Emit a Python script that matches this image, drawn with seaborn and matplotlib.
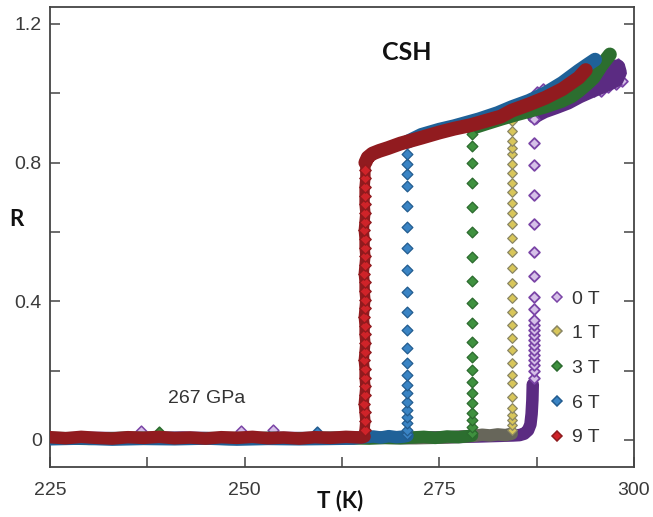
import matplotlib
matplotlib.use("Agg")
import matplotlib.pyplot as plt
import seaborn as sns
from matplotlib.lines import Line2D

# ---------------- data ----------------
fields = ["0 T", "1 T", "3 T", "6 T", "9 T"]

# 9 T (red)
T9_low = [225.0, 227.0, 229.0, 231.0, 233.0, 235.0, 237.0, 239.0, 241.0, 243.0, 245.0,
          247.0, 249.0, 251.0, 253.0, 255.0, 257.0, 259.0, 261.0, 263.0, 265.0, 265.4]
R9_low = [0.008, 0.005, 0.009, 0.006, 0.004, 0.008, 0.006, 0.009, 0.005, 0.007, 0.004,
          0.008, 0.006, 0.009, 0.005, 0.007, 0.004, 0.008, 0.006, 0.009, 0.007, 0.010]
T9_mid = [265.4, 265.5, 265.4, 265.3, 265.4, 265.5, 265.4, 265.4, 265.3, 265.4, 265.5,
          265.4, 265.4, 265.3, 265.4, 265.5, 265.4, 265.4, 265.3, 265.4, 265.5, 265.4,
          265.4, 265.3, 265.4, 265.5, 265.4, 265.4, 265.4, 265.5, 265.5]
R9_mid = [0.030, 0.055, 0.080, 0.105, 0.130, 0.155, 0.180, 0.205, 0.230, 0.255, 0.280,
          0.305, 0.330, 0.355, 0.380, 0.405, 0.430, 0.455, 0.480, 0.505, 0.530, 0.555,
          0.580, 0.605, 0.630, 0.655, 0.680, 0.705, 0.730, 0.755, 0.780]
T9_high = [265.5, 265.8, 266.4, 267.3, 268.4, 270.0, 272.7, 275.0, 276.9, 279.0, 280.1,
           282.9, 284.3, 286.5, 288.6, 290.8, 292.9, 293.8]
R9_high = [0.800, 0.815, 0.826, 0.834, 0.842, 0.855, 0.872, 0.887, 0.898, 0.908, 0.915,
           0.933, 0.950, 0.968, 0.987, 1.012, 1.045, 1.067]

# 6 T (blue)
T6_low = [225.0, 229.0, 233.0, 237.0, 241.0, 245.0, 249.0, 253.0, 257.0, 261.0, 264.0,
          265.5, 266.5, 267.5, 268.5, 269.5, 270.5, 270.9]
R6_low = [0.002, 0.004, 0.001, 0.003, 0.002, 0.004, 0.001, 0.003, 0.002, 0.003, 0.004,
          0.008, 0.010, 0.007, 0.011, 0.008, 0.010, 0.012]
R6_mid = [0.018, 0.029, 0.049, 0.066, 0.086, 0.109, 0.135, 0.158, 0.187, 0.222, 0.265,
          0.317, 0.368, 0.426, 0.489, 0.553, 0.613, 0.676, 0.734, 0.768, 0.797, 0.826]
T6_mid = [270.9] * len(R6_mid)
T6_high = [270.9, 272.7, 275.0, 276.9, 280.1, 282.5, 284.3, 286.5, 288.6, 290.8, 292.9,
           294.2, 295.0]
R6_high = [0.860, 0.880, 0.895, 0.905, 0.925, 0.943, 0.960, 0.978, 1.000, 1.030, 1.065,
           1.085, 1.097]

# 3 T (green)
T3_low = [225.0, 230.0, 235.0, 239.0, 243.0, 248.0, 253.0, 258.0, 263.0, 266.0, 268.0,
          270.0, 271.5, 273.0, 274.5, 276.0, 277.5, 278.7, 279.2]
R3_low = [0.005, 0.003, 0.006, 0.004, 0.005, 0.003, 0.006, 0.004, 0.005, 0.004, 0.006,
          0.005, 0.007, 0.009, 0.006, 0.010, 0.008, 0.011, 0.013]
R3_mid = [0.020, 0.037, 0.058, 0.078, 0.106, 0.135, 0.167, 0.201, 0.239, 0.282, 0.337,
          0.394, 0.460, 0.527, 0.599, 0.671, 0.740, 0.800, 0.849, 0.883]
T3_mid = [279.2] * len(R3_mid)
T3_high = [279.2, 281.0, 283.0, 285.0, 287.0, 288.6, 290.7, 292.0, 292.9, 294.0, 294.8,
           295.8, 296.9]
R3_high = [0.900, 0.913, 0.927, 0.940, 0.952, 0.962, 0.978, 0.992, 1.007, 1.028, 1.045,
           1.080, 1.112]

# 1 T (yellow)
T1_low = [225.0, 231.0, 237.0, 243.0, 249.0, 255.0, 261.0, 267.0, 272.0, 276.0, 279.5,
          280.5, 281.5, 282.5, 283.5, 284.3]
R1_low = [0.006, 0.004, 0.007, 0.005, 0.006, 0.004, 0.007, 0.006, 0.005, 0.007, 0.012,
          0.015, 0.013, 0.016, 0.014, 0.018]
R1_mid = [0.030, 0.043, 0.058, 0.072, 0.092, 0.124, 0.164, 0.187, 0.222, 0.259, 0.294,
          0.331, 0.368, 0.409, 0.452, 0.495, 0.541, 0.584, 0.624, 0.656, 0.685, 0.714,
          0.742, 0.771, 0.797, 0.826, 0.843, 0.863, 0.892, 0.921]
T1_mid = [284.3] * len(R1_mid)
T1_high = [284.3, 286.0, 288.0, 290.0, 291.5, 293.0]
R1_high = [0.945, 0.960, 0.975, 0.995, 1.012, 1.035]

# 0 T (purple)
T0_low = [225.0, 230.0, 236.0, 242.0, 248.0, 254.0, 260.0, 266.0, 271.0, 276.0, 280.0,
          283.0, 284.5, 285.3, 285.9, 286.4, 286.7, 286.85, 286.95, 287.0]
R0_low = [0.004, 0.006, 0.005, 0.007, 0.004, 0.006, 0.005, 0.007, 0.006, 0.008, 0.010,
          0.012, 0.013, 0.014, 0.018, 0.028, 0.045, 0.075, 0.115, 0.160]
R0_mid = [0.180, 0.200, 0.215, 0.230, 0.245, 0.259, 0.273, 0.288, 0.303, 0.317, 0.331,
          0.345, 0.378, 0.411, 0.472, 0.541, 0.624, 0.708, 0.794, 0.857, 0.925]
T0_mid = [287.1] * len(R0_mid)
T0_high = [287.2, 288.5, 290.0, 291.5, 293.0, 294.5, 295.8, 296.8, 297.7, 298.1, 297.9,
           297.2, 296.4, 295.5]
R0_high = [0.935, 0.950, 0.962, 0.975, 0.993, 1.008, 1.020, 1.030, 1.040, 1.060, 1.076,
           1.073, 1.055, 1.040]
T0_cloud = [287.6, 288.3, 287.4, 288.0, 293.3, 294.1, 295.0, 295.6, 296.3, 296.9, 297.5,
            298.0, 298.2, 298.4, 297.7, 297.1, 296.7, 295.8, 294.8, 293.7, 292.9]
R0_cloud = [1.005, 1.012, 0.930, 0.945, 1.007, 1.017, 1.026, 1.045, 1.055, 1.070, 1.079,
            1.084, 1.060, 1.036, 1.026, 1.036, 1.017, 1.007, 1.007, 0.998, 0.998]

# stray points sticking out of the low-resistance band
T_bump = [236.7, 249.5, 253.7, 239.0, 259.3]
R_bump = [0.026, 0.025, 0.028, 0.024, 0.022]
bump_field = ["0 T", "0 T", "0 T", "3 T", "6 T"]

# ---------------- styling ----------------
face = {"0 T": "#d6c1e8", "1 T": "#d8c65a", "3 T": "#3f913f", "6 T": "#3a84c4", "9 T": "#cf2329"}
edge = {"0 T": "#7a44a6", "1 T": "#8a8664", "3 T": "#2b6a2e", "6 T": "#225c8f", "9 T": "#8e1a1d"}
dense = {"0 T": "#5b2b82", "1 T": "#67665a", "3 T": "#2c6e2f", "6 T": "#1f6198", "9 T": "#911b1f"}

sns.set_theme(style="white")
plt.rcParams["font.family"] = ["Liberation Sans", "DejaVu Sans"]

fig = plt.figure(figsize=(6.53, 5.17), dpi=100)
ax = fig.add_axes([50 / 653, 50 / 517, 584 / 653, 460 / 517])

LW = 9.0
LWH = 10.0
MS = 30


def band(T, R, key, z, lw=LW):
    sns.lineplot(x=T, y=R, ax=ax, sort=False, estimator=None, color=dense[key], lw=lw,
                 zorder=z, solid_capstyle="round", solid_joinstyle="round", legend=False)


def dots(T, R, key, z, s=MS, lw=0.9):
    sns.scatterplot(x=T, y=R, ax=ax, marker="D", s=s, color=face[key], edgecolor=edge[key],
                    linewidth=lw, zorder=z, legend=False)


# 0 T
dots(T0_cloud, R0_cloud, "0 T", 1.5, lw=1.3)
band(T0_low, R0_low, "0 T", 2)
band(T0_high, R0_high, "0 T", 2, lw=11)
dots(T0_mid, R0_mid, "0 T", 3, lw=1.3)
# 1 T
band(T1_low, R1_low, "1 T", 4)
band(T1_high, R1_high, "1 T", 4, lw=LWH)
dots(T1_mid, R1_mid, "1 T", 5, s=24)
# 3 T
band(T3_low, R3_low, "3 T", 6)
band(T3_high, R3_high, "3 T", 6, lw=LWH)
dots(T3_mid, R3_mid, "3 T", 7)
# 6 T
band(T6_low, R6_low, "6 T", 8)
band(T6_high, R6_high, "6 T", 8, lw=LWH)
dots(T6_mid, R6_mid, "6 T", 9)
# 9 T
band(T9_low, R9_low, "9 T", 10)
band(T9_low[-1:] + T9_mid + T9_high[:1], R9_low[-1:] + R9_mid + R9_high[:1], "9 T", 10, lw=7.5)
band(T9_high, R9_high, "9 T", 10, lw=LWH)
dots(T9_mid, R9_mid, "9 T", 11, s=34)

for t, r, f in zip(T_bump, R_bump, bump_field):
    dots([t], [r], f, 1, lw=1.1)

# ---------------- axes ----------------
ax.set_xlim(225, 300)
ax.set_ylim(-0.078, 1.249)
ax.set_xticks([225, 250, 275, 300])
ax.set_xticks([237.5, 262.5, 287.5], minor=True)
ax.set_yticks([0, 0.4, 0.8, 1.2])
ax.set_yticklabels(["0", "0.4", "0.8", "1.2"])
ax.set_yticks([0.2, 0.6, 1.0], minor=True)

tick_col = "#3a3a3a"
for which in ("major", "minor"):
    ax.tick_params(axis="both", which=which, direction="in", length=7, width=1.1,
                   color="#444444", left=True, bottom=True, right=True, top=False)
ax.tick_params(axis="x", which="major", labelsize=14, labelcolor=tick_col, pad=11)
ax.tick_params(axis="y", which="major", labelsize=14, labelcolor=tick_col, pad=6)

for sp in ax.spines.values():
    sp.set_color("#444444")
    sp.set_linewidth(1.3)
    sp.set_visible(True)

ax.set_xlabel("T (K)", fontsize=16, fontweight="bold", family=["Lato", "DejaVu Sans"], color="#111111",
              va="center")
ax.set_ylabel("R", fontsize=16, fontweight="bold", family=["Lato", "DejaVu Sans"], color="#111111",
              rotation=0, va="center", ha="center")
ax.xaxis.set_label_coords(0.497, -0.072)
ax.yaxis.set_label_coords(-0.058, 0.537)

ax.text(0.611, 0.902, "CSH", transform=ax.transAxes, fontsize=18, fontweight="bold",
        family=["Lato", "DejaVu Sans"], ha="center", va="center", color="#111111")
ax.text(0.269, 0.148, "267 GPa", transform=ax.transAxes, fontsize=14, ha="center",
        va="center", color="#333333")

handles = [Line2D([0], [0], marker="D", ls="none", markersize=5.5, markerfacecolor=face[f],
                  markeredgecolor=edge[f], markeredgewidth=1.1) for f in fields]
leg = ax.legend(handles, fields, loc="upper left", bbox_to_anchor=(0.859, 0.385), frameon=False,
                fontsize=14, handlelength=0.6, handletextpad=0.45, labelspacing=0.88,
                borderpad=0, borderaxespad=0)
for t in leg.get_texts():
    t.set_color("#333333")

fig.savefig("out.png", dpi=100, facecolor="white")
